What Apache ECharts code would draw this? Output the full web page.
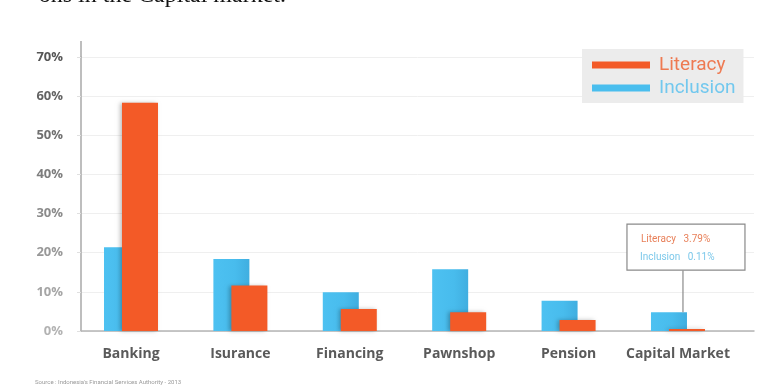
<!DOCTYPE html>
<html>
<head>
<meta charset="utf-8">
<script src="https://cdn.jsdelivr.net/npm/echarts@6/dist/echarts.min.js"></script>
<style>
html,body{margin:0;padding:0;background:#fff;}
#c{width:760px;height:390px;}
</style>
</head>
<body>
<div id="c"></div>
<script>
var categories = ['Banking', 'Isurance', 'Financing', 'Pawnshop', 'Pension', 'Capital Market'];
var literacy = [58.3, 11.6, 5.6, 4.8, 2.8, 0.5];
var inclusion = [21.4, 18.4, 9.9, 15.8, 7.7, 4.8];
var yTicks = [0, 10, 20, 30, 40, 50, 60, 70];
var noteLabels = ['Literacy', 'Inclusion'];
var noteValues = ['3.79%', '0.11%'];
var sourceText = "Source : Indonesia's Financial Services Authority - 2013";
var headText = 'ons in the Capital market.';

var ORANGE = '#F35A27';
var BLUE = '#4ABEEE';

var chart = echarts.init(document.getElementById('c'), null, {renderer: 'canvas'});

function idxData(arr) { return arr.map(function (v, i) { return [i, v]; }); }

var option = {
  animation: false,
  backgroundColor: '#fff',
  color: [BLUE, ORANGE],
  grid: {left: 81, right: 6, top: 57, bottom: 59},
  legend: {
    orient: 'vertical',
    left: 582,
    top: 49,
    padding: [5, 8, 4, 10],
    backgroundColor: '#ececec',
    itemWidth: 58,
    itemHeight: 7,
    itemGap: 1,
    icon: 'rect',
    textStyle: {fontFamily: 'Roboto', fontSize: 19, lineHeight: 22, padding: [0, 0, 0, 4]},
    data: [
      {name: 'Literacy', textStyle: {color: '#EE7A52'}, itemStyle: {color: ORANGE}},
      {name: 'Inclusion', textStyle: {color: '#72C8EE'}, itemStyle: {color: BLUE}}
    ]
  },
  xAxis: {
    type: 'value',
    min: -0.457,
    max: 5.695,
    splitLine: {show: false},
    axisTick: {show: false},
    axisLine: {show: true, onZero: false, lineStyle: {color: '#b5b5b5', width: 1.5}},
    axisLabel: {
      customValues: categories.map(function (c, i) { return i; }),
      formatter: function (v) { return categories[Math.round(v)] || ''; },
      margin: 16,
      fontFamily: 'Open Sans',
      fontWeight: 'bold',
      fontSize: 14,
      color: '#5a5a5a'
    }
  },
  yAxis: {
    type: 'value',
    min: 0,
    max: 70,
    interval: 10,
    axisLine: {show: true, onZero: false, lineStyle: {color: '#a8a8a8', width: 1.5}},
    axisTick: {show: true, length: 4, lineStyle: {color: '#e0e0e0'}},
    splitLine: {show: true, lineStyle: {color: '#efefef', width: 1}},
    axisLabel: {
      margin: 18,
      fontFamily: 'Open Sans',
      fontWeight: 'bold',
      fontSize: 13,
      formatter: function (v) { return v + '%'; },
      color: function (v) {
        var t = Number(v) / 70;
        var g = Math.round(178 - t * 92);
        return 'rgb(' + g + ',' + g + ',' + g + ')';
      }
    }
  },
  series: [
    {
      name: 'Inclusion',
      type: 'bar',
      data: idxData(inclusion),
      barWidth: 36,
      barGap: '-50%',
      itemStyle: {
        color: new echarts.graphic.LinearGradient(0, 0, 1, 0, [
          {offset: 0, color: '#4DC1F1'},
          {offset: 0.6, color: '#48BCED'},
          {offset: 1, color: '#40AEE0'}
        ])
      }
    },
    {
      name: 'Literacy',
      type: 'bar',
      data: idxData(literacy),
      barWidth: 36,
      barGap: '-50%',
      itemStyle: {
        color: ORANGE,
        shadowColor: 'rgba(0,0,0,0.25)',
        shadowBlur: 4,
        shadowOffsetX: -2
      }
    }
  ]
};
chart.setOption(option);

var last = categories.length - 1;
var pTop = chart.convertToPixel({seriesIndex: 0}, [last, inclusion[last]]);
var lineX = pTop[0] + 5;
var boxW = 118, boxH = 46;
var boxX = lineX - 56, boxY = pTop[1] - 88;
var y70 = chart.convertToPixel({yAxisIndex: 0}, yTicks[yTicks.length - 1]);
var gridLeft = chart.convertToPixel({xAxisIndex: 0}, -0.457);

chart.setOption({
  graphic: [
    {
      type: 'text',
      x: 286, y: 8,
      style: {text: headText, font: '24px "Liberation Serif"', fill: '#111', align: 'right', verticalAlign: 'bottom'}
    },
    {
      type: 'line',
      shape: {x1: gridLeft, y1: y70 - 16, x2: gridLeft, y2: y70},
      style: {stroke: '#a8a8a8', lineWidth: 1.5}
    },
    {
      type: 'line',
      shape: {x1: lineX, y1: boxY + boxH, x2: lineX, y2: pTop[1]},
      style: {stroke: '#8a8a8a', lineWidth: 1.2},
      z: 100
    },
    {
      type: 'rect',
      shape: {x: boxX, y: boxY, width: boxW, height: boxH},
      style: {fill: '#fff', stroke: '#8a8a8a', lineWidth: 1.2},
      z: 100
    },
    {
      type: 'text', x: boxX + 14, y: boxY + 15, z: 101,
      style: {text: noteLabels[0] + '   ' + noteValues[0], font: '10px Roboto', fill: '#E8805A', verticalAlign: 'middle'}
    },
    {
      type: 'text', x: boxX + 13, y: boxY + 33, z: 101,
      style: {text: noteLabels[1] + '   ' + noteValues[1], font: '10px Roboto', fill: '#7CC8EA', verticalAlign: 'middle'}
    },
    {
      type: 'text', x: 35, y: 382,
      style: {text: sourceText, font: '6px Roboto', fill: '#999', verticalAlign: 'middle'}
    }
  ]
});
</script>
</body>
</html>
